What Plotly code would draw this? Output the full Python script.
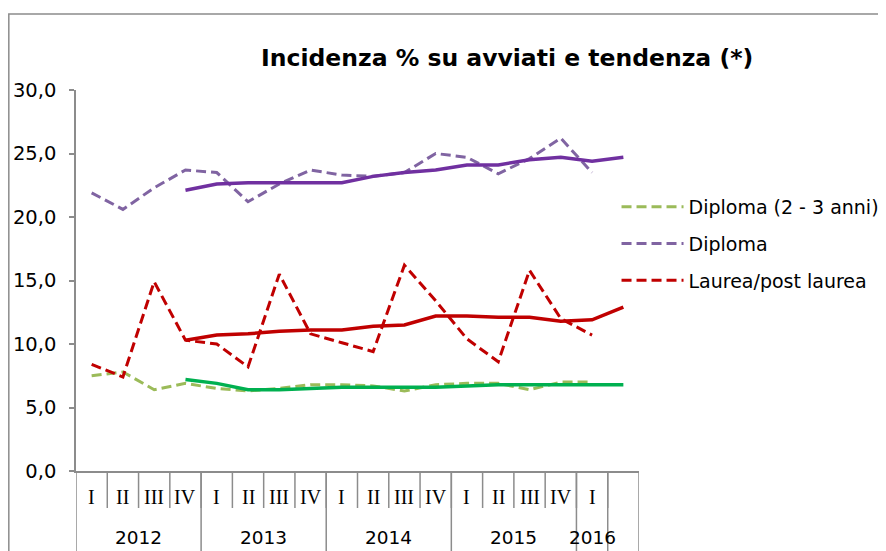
import plotly.graph_objects as go

# ---- data ----
quarters = ["I", "II", "III", "IV", "I", "II", "III", "IV", "I", "II", "III", "IV",
            "I", "II", "III", "IV", "I", ""]
years = ["2012", "2013", "2014", "2015", "2016", ""]
year_span = [4, 4, 4, 4, 1, 1]   # number of quarters per year group

dip23_q = [7.5, 7.8, 6.4, 6.9, 6.5, 6.3, 6.5, 6.8, 6.8, 6.7, 6.3, 6.8, 6.9, 6.9, 6.4, 7.0, 7.0, None]
dip23_t = [None, None, None, 7.2, 6.9, 6.4, 6.4, 6.5, 6.6, 6.6, 6.6, 6.6, 6.7, 6.8, 6.8, 6.8, 6.8, 6.8]
dip_q = [21.9, 20.6, 22.3, 23.7, 23.5, 21.2, 22.6, 23.7, 23.3, 23.2, 23.5, 25.0, 24.7, 23.4, 24.6, 26.2, 23.5, None]
dip_t = [None, None, None, 22.1, 22.6, 22.7, 22.7, 22.7, 22.7, 23.2, 23.5, 23.7, 24.1, 24.1, 24.5, 24.7, 24.4, 24.7]
lau_q = [8.4, 7.4, 14.9, 10.3, 10.0, 8.2, 15.5, 10.8, 10.1, 9.4, 16.2, 13.4, 10.4, 8.6, 15.8, 12.0, 10.7, None]
lau_t = [None, None, None, 10.3, 10.7, 10.8, 11.0, 11.1, 11.1, 11.4, 11.5, 12.2, 12.2, 12.1, 12.1, 11.8, 11.9, 12.9]

names = ["Diploma (2 - 3 anni)", "Diploma", "Laurea/post laurea"]
dash_colors = ["#9BBB59", "#8064A2", "#C00000"]
trend_colors = ["#00B050", "#7030A0", "#C00000"]

x = list(range(len(quarters)))
fig = go.Figure()

series_q = [dip23_q, dip_q, lau_q]
series_t = [dip23_t, dip_t, lau_t]
for i, name in enumerate(names):
    fig.add_trace(go.Scatter(x=x, y=series_q[i], mode="lines", name=name,
                             legendgroup=name,
                             line=dict(color=dash_colors[i], width=3, dash="10px,5px")))
for i, name in enumerate(names):
    fig.add_trace(go.Scatter(x=x, y=series_t[i], mode="lines", showlegend=False,
                             line=dict(color=trend_colors[i], width=3.5)))

# figure geometry (page has an 8px body margin)
OFF = 8
W, H = 878, 543
L, T = 76 - OFF, 90 - OFF
PW = 563.5
PLOT_H = 381.0
R = W - L - PW
B = H - T - PLOT_H

axis_gray = "#8C8C8C"
shapes = []
annotations = []
# quarter labels + dividers
for i, q in enumerate(quarters):
    annotations.append(dict(x=i, y=-26 / PLOT_H, xref="x", yref="paper", text=q,
                            showarrow=False, yanchor="middle",
                            font=dict(family="Liberation Serif", size=20, color="#000")))
for i in range(1, len(quarters)):
    shapes.append(dict(type="line", xref="x", yref="paper", x0=i - 0.5, x1=i - 0.5,
                       y0=0, y1=-37 / PLOT_H, line=dict(color=axis_gray, width=1.5)))
# year labels + long dividers
pos = -0.5
bounds = [pos]
for y_lab, span in zip(years, year_span):
    annotations.append(dict(x=pos + span / 2, y=-66 / PLOT_H, xref="x", yref="paper",
                            text=y_lab, showarrow=False, yanchor="middle",
                            font=dict(family="DejaVu Sans", size=18.5, color="#000")))
    pos += span
    bounds.append(pos)
for b in bounds:
    shapes.append(dict(type="line", xref="x", yref="paper", x0=b, x1=b,
                       y0=0, y1=-B / PLOT_H, line=dict(color=axis_gray, width=1.5)))
# outer frame
shapes.append(dict(type="rect", xref="paper", yref="paper",
                   x0=(0.75 - L) / PW, x1=1.6, y0=-0.5, y1=(PLOT_H + T - 6) / PLOT_H,
                   line=dict(color="#8C8C8C", width=1.5)))

annotations.append(dict(text="<b>Incidenza % su avviati e tendenza (*)</b>",
                        xref="paper", yref="paper", x=(507 - 76) / PW,
                        y=(471 - 58) / PLOT_H, showarrow=False, xanchor="center",
                        yanchor="middle",
                        font=dict(family="DejaVu Sans", size=23.5, color="#000")))

fig.update_layout(
    width=W, height=H,
    margin=dict(l=L, r=R, t=T, b=B, pad=0, autoexpand=False),
    paper_bgcolor="white", plot_bgcolor="white",
    separators=", ",
    showlegend=True,
    legend=dict(x=(617 - 76) / PW, y=(471 - 188) / PLOT_H, xanchor="left",
                yanchor="top", tracegroupgap=9, bgcolor="rgba(0,0,0,0)",
                itemwidth=62,
                font=dict(family="DejaVu Sans", size=19, color="#000")),
    xaxis=dict(range=[-0.5, len(quarters) - 0.5], showticklabels=False, ticks="",
               showgrid=False, zeroline=False, showline=True,
               linecolor=axis_gray, linewidth=1.5),
    yaxis=dict(range=[0, 30], tickvals=[0, 5, 10, 15, 20, 25, 30], tickformat=".1f",
               showgrid=False, zeroline=False, showline=True, linecolor=axis_gray,
               linewidth=1.5, ticks="outside", ticklen=5, tickcolor=axis_gray,
               tickwidth=1.5, ticklabelstandoff=9,
               tickfont=dict(family="DejaVu Sans", size=19.5, color="#000")),
    shapes=shapes,
    annotations=annotations,
)

fig.write_html("out.html")
